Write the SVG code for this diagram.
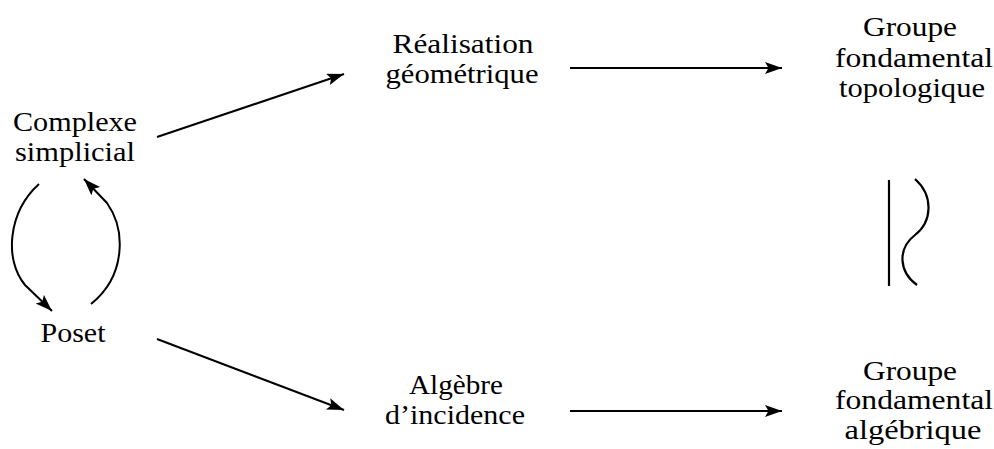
<svg xmlns="http://www.w3.org/2000/svg" width="994" height="449" viewBox="0 0 994 449">
  <style>
    text { font-family: 'Liberation Serif', 'Times New Roman', Times, serif; font-size: 27px; fill: #000; text-anchor: middle; }
    .edge { fill: none; stroke: #000; stroke-width: 2; marker-end: url(#head); }
    .iso { fill: none; stroke: #000; stroke-width: 2.2; }
  </style>
  <defs>
    <!-- filled LaTeX-style arrow tip -->
    <marker id="head" markerUnits="userSpaceOnUse" markerWidth="20" markerHeight="14" refX="17" refY="6" orient="auto">
      <path d="M0,0 L17,6 L0,12 L3.5,6 z" fill="#000"/>
    </marker>
  </defs>
  <rect width="994" height="449" fill="#fff"/>

  <g id="complexe">
    <text x="75" y="131" textLength="124" lengthAdjust="spacingAndGlyphs">Complexe</text>
    <text x="75" y="161" textLength="120" lengthAdjust="spacingAndGlyphs">simplicial</text>
  </g>
  <g id="poset">
    <text x="73" y="342" textLength="65" lengthAdjust="spacingAndGlyphs">Poset</text>
  </g>
  <g id="realisation">
    <text x="463" y="53" textLength="141" lengthAdjust="spacingAndGlyphs">Réalisation</text>
    <text x="462" y="83" textLength="153" lengthAdjust="spacingAndGlyphs">géométrique</text>
  </g>
  <g id="algebre">
    <text x="456" y="394" textLength="94" lengthAdjust="spacingAndGlyphs">Algèbre</text>
    <text x="455" y="424" textLength="140" lengthAdjust="spacingAndGlyphs">d’incidence</text>
  </g>
  <g id="groupe-topo">
    <text x="910" y="36" textLength="94" lengthAdjust="spacingAndGlyphs">Groupe</text>
    <text x="914" y="67" textLength="158" lengthAdjust="spacingAndGlyphs">fondamental</text>
    <text x="912" y="97" textLength="146" lengthAdjust="spacingAndGlyphs">topologique</text>
  </g>
  <g id="groupe-alg">
    <text x="910" y="380" textLength="94" lengthAdjust="spacingAndGlyphs">Groupe</text>
    <text x="914" y="409" textLength="158" lengthAdjust="spacingAndGlyphs">fondamental</text>
    <text x="913" y="439" textLength="137" lengthAdjust="spacingAndGlyphs">algébrique</text>
  </g>

  <g id="connectors">
    <path class="edge" d="M157,137 L344,74"/>
    <path class="edge" d="M570,68 L782,68"/>
    <path class="edge" d="M157,339 L344,410"/>
    <path class="edge" d="M570,411 L782,411"/>
    <path class="edge" d="M39,184 C8,212 4,260 25,285 L52,311"/>
    <path class="edge" d="M91,304 C126,276 126,230 107,203 L84,179"/>
  </g>

  <g id="isomorphism">
    <path class="iso" d="M889,180 L889,286"/>
    <path class="iso" d="M915,179 C934,196 932,222 915,235 C897,249 899,272 917,285"/>
  </g>
</svg>
